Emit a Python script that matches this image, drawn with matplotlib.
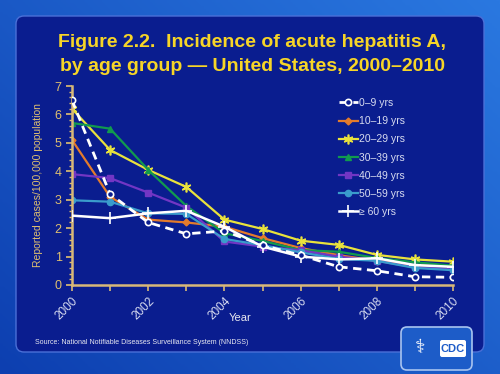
import numpy as np
import matplotlib
matplotlib.use("Agg")
import matplotlib.pyplot as plt
from matplotlib.patches import FancyBboxPatch
from matplotlib.ticker import MultipleLocator

plt.rcParams['font.family'] = ['Liberation Sans', 'DejaVu Sans']

# data (cases per 100,000)
years = [2000, 2001, 2002, 2003, 2004, 2005, 2006, 2007, 2008, 2009, 2010]
age_0_9 = [6.5, 3.2, 2.2, 1.8, 1.9, 1.4, 1.05, 0.64, 0.5, 0.29, 0.27]
age_10_19 = [5.1, 3.1, 2.3, 2.2, 2.05, 1.65, 1.3, 1.05, 0.85, 0.7, 0.65]
age_20_29 = [6.2, 4.75, 4.05, 3.45, 2.3, 1.97, 1.56, 1.41, 1.06, 0.9, 0.82]
age_30_39 = [5.7, 5.5, 4.05, 2.78, 1.82, 1.55, 1.23, 1.17, 0.95, 0.8, 0.68]
age_40_49 = [3.9, 3.76, 3.25, 2.72, 1.53, 1.35, 1.22, 1.0, 0.85, 0.62, 0.55]
age_50_59 = [2.98, 2.93, 2.52, 2.5, 1.62, 1.4, 1.15, 0.92, 0.85, 0.6, 0.52]
age_60_up = [2.44, 2.35, 2.52, 2.61, 2.05, 1.35, 1.0, 0.9, 0.94, 0.7, 0.64]

labels = ['0\u20139 yrs', '10\u201319 yrs', '20\u201329 yrs', '30\u201339 yrs',
          '40\u201349 yrs', '50\u201359 yrs', '\u2265 60 yrs']

fig = plt.figure(figsize=(5, 3.74), dpi=100)

# slide background: blue gradient
bg = fig.add_axes([0, 0, 1, 1])
bg.set_xlim(0, 500)
bg.set_ylim(374, 0)
bg.axis('off')
gx = np.linspace(0, 1, 200)
gy = np.linspace(0, 1, 150)
X, Y = np.meshgrid(gx, gy)
grad = 0.55 * X + 0.45 * (1 - Y)
bg.imshow(grad, extent=[0, 500, 374, 0], cmap=matplotlib.colors.LinearSegmentedColormap.from_list(
    'slide', ['#0d3fb0', '#2a78e0']), aspect='auto', zorder=0)
panel = FancyBboxPatch((16, 16), 468, 336, boxstyle='round,pad=0,rounding_size=8',
                       facecolor='#0a1d8f', edgecolor='#4a70d8', lw=1, zorder=1)
bg.add_patch(panel)

# CDC logo box
logo = FancyBboxPatch((401, 327), 71, 43, boxstyle='round,pad=0,rounding_size=6',
                      facecolor='#1d5cc8', edgecolor='#a8c4f0', lw=1.2, zorder=2)
bg.add_patch(logo)
bg.text(420, 349, '\u2695', color='white', fontsize=14, ha='center', va='center', zorder=3)
bg.add_patch(FancyBboxPatch((440, 340), 26, 17, boxstyle='round,pad=0,rounding_size=2',
                            facecolor='#ffffff', edgecolor='none', zorder=3))
bg.text(453, 349, 'CDC', color='#1d5cc8', fontsize=8, fontweight='bold',
        ha='center', va='center', zorder=4)

bg.text(252, 42, 'Figure 2.2.  Incidence of acute hepatitis A,', color='#f7d527',
        fontsize=14, fontweight='bold', ha='center', va='center', zorder=3)
bg.text(252, 66, 'by age group \u2014 United States, 2000\u20132010', color='#f7d527',
        fontsize=14, fontweight='bold', ha='center', va='center', zorder=3)
bg.text(35, 342, 'Source: National Notifiable Diseases Surveillance System (NNDSS)',
        color='#e8e8f0', fontsize=5, ha='left', va='center', zorder=3)

ax = fig.add_axes([0.144, 0.238, 0.762, 0.532])
ax.patch.set_alpha(0)

ax.plot(years, age_0_9, color='white', lw=2, ls=(0, (3, 2)), marker='o', ms=4.5,
        mfc='#0a1d8f', mec='white', mew=1.2, label=labels[0], zorder=9)
ax.plot(years, age_10_19, color='#e37b2c', lw=1.6, marker='D', ms=3.5, label=labels[1])
ax.plot(years, age_20_29, color='#e9e23c', lw=1.6, marker=(6, 2, 0), ms=7, mew=1.2,
        label=labels[2])
ax.plot(years, age_30_39, color='#119a4e', lw=1.6, marker='^', ms=5, label=labels[3])
ax.plot(years, age_40_49, color='#7236c4', lw=1.6, marker='s', ms=4.5, label=labels[4])
ax.plot(years, age_50_59, color='#3a9ccc', lw=1.6, marker='o', ms=4.5, label=labels[5])
ax.plot(years, age_60_up, color='white', lw=1.8, marker='+', ms=8, mew=1.2,
        label=labels[6], zorder=8)

ax.set_xlim(2000, 2010)
ax.set_ylim(0, 7)
ax.set_xticks(years)
ax.set_xticklabels([str(y) if y % 2 == 0 else '' for y in years], rotation=45,
                   ha='right', va='top', rotation_mode='anchor', color='#d8dcf0', fontsize=8.5)
ax.yaxis.set_major_locator(MultipleLocator(1))
ax.yaxis.set_minor_locator(MultipleLocator(0.2))
ax.tick_params(axis='y', colors='#e0c070', labelsize=9, direction='out', length=4, width=1.2)
ax.tick_params(axis='y', which='minor', colors='#e0c070', length=2.5, width=1)
ax.tick_params(axis='x', colors='#d8b878', direction='out', length=4, width=1.2)
for lbl in ax.get_xticklabels():
    lbl.set_color('#d8dcf0')
for side in ['top', 'right']:
    ax.spines[side].set_visible(False)
for side in ['left', 'bottom']:
    ax.spines[side].set_color('#d8b878')
    ax.spines[side].set_linewidth(1.8)

ax.set_ylabel('Reported cases/100,000 population', color='#e0c070', fontsize=7.5, labelpad=8)
ax.set_xlabel('Year', color='#e8e8f0', fontsize=8, labelpad=-4)
ax.xaxis.set_label_coords(0.44, -0.14)

leg = ax.legend(loc='upper left', bbox_to_anchor=(0.69, 0.96), frameon=False,
                fontsize=7.5, labelcolor='#d8dcf0', handlelength=1.8, handletextpad=0.1,
                labelspacing=0.78, borderaxespad=0)

fig.savefig('out.png', dpi=100)
